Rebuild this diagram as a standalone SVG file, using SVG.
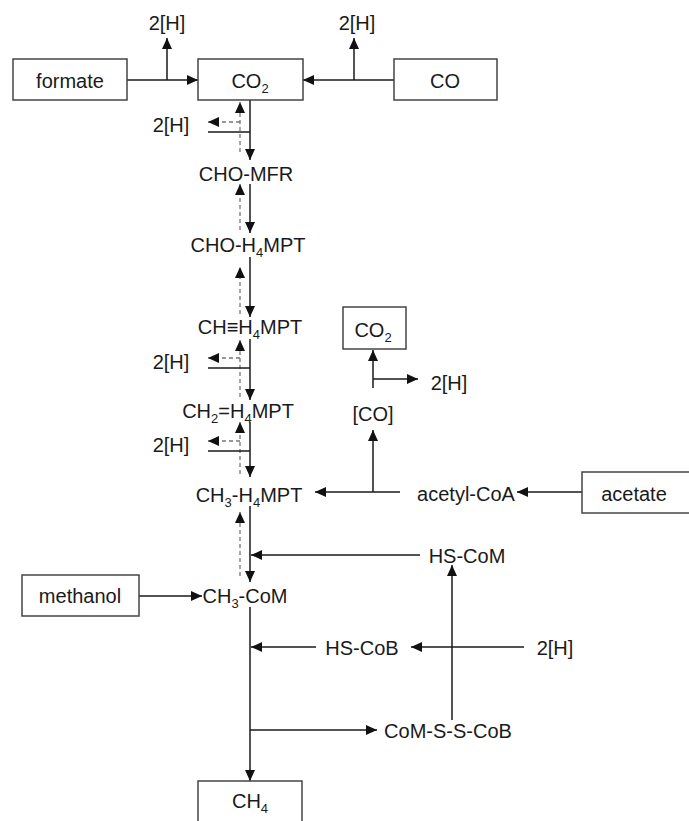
<svg xmlns="http://www.w3.org/2000/svg" width="689" height="821" viewBox="0 0 689 821">
<style>
text{font-family:"Liberation Sans",Arial,sans-serif;font-size:20px;fill:#1a1a1a;text-anchor:middle}
.s{font-size:13px}
.box{fill:#fff;stroke:#444;stroke-width:1.5}
.ln{stroke:#1a1a1a;stroke-width:1.5;fill:none}
.dash{stroke:#777;stroke-width:1.3;stroke-dasharray:4 3;fill:none}
</style>
<defs>
<marker id="ah" markerUnits="userSpaceOnUse" markerWidth="12" markerHeight="11" refX="11" refY="5" orient="auto">
<path d="M0,0 L11,5 L0,10 z" fill="#111"/>
</marker>
</defs>
<g id="connectors">
<line class="ln" x1="127" y1="80" x2="198" y2="80" marker-end="url(#ah)"/>
<line class="ln" x1="167" y1="80" x2="167" y2="38" marker-end="url(#ah)"/>
<line class="ln" x1="394" y1="80" x2="303" y2="80" marker-end="url(#ah)"/>
<line class="ln" x1="354" y1="80" x2="354" y2="38" marker-end="url(#ah)"/>
<line class="ln" x1="250" y1="100" x2="250" y2="160" marker-end="url(#ah)"/>
<line class="ln" x1="250" y1="184" x2="250" y2="233" marker-end="url(#ah)"/>
<line class="ln" x1="250" y1="257" x2="250" y2="317" marker-end="url(#ah)"/>
<line class="ln" x1="250" y1="339" x2="250" y2="400" marker-end="url(#ah)"/>
<line class="ln" x1="250" y1="422" x2="250" y2="477" marker-end="url(#ah)"/>
<line class="ln" x1="250" y1="506" x2="250" y2="582" marker-end="url(#ah)"/>
<line class="ln" x1="250" y1="607" x2="250" y2="781" marker-end="url(#ah)"/>
<line class="dash" x1="240" y1="152" x2="240" y2="102" marker-end="url(#ah)"/>
<line class="dash" x1="240" y1="230" x2="240" y2="184" marker-end="url(#ah)"/>
<line class="dash" x1="240" y1="314" x2="240" y2="267" marker-end="url(#ah)"/>
<line class="dash" x1="240" y1="397" x2="240" y2="340" marker-end="url(#ah)"/>
<line class="dash" x1="240" y1="474" x2="240" y2="422" marker-end="url(#ah)"/>
<line class="dash" x1="240" y1="576" x2="240" y2="512" marker-end="url(#ah)"/>
<line class="dash" x1="240" y1="122" x2="208" y2="122" marker-end="url(#ah)"/>
<line class="ln" x1="208" y1="132" x2="250" y2="132"/>
<line class="dash" x1="240" y1="358" x2="208" y2="358" marker-end="url(#ah)"/>
<line class="ln" x1="208" y1="368" x2="250" y2="368"/>
<line class="dash" x1="240" y1="441" x2="208" y2="441" marker-end="url(#ah)"/>
<line class="ln" x1="208" y1="451" x2="250" y2="451"/>
<line class="ln" x1="400" y1="492" x2="315" y2="492" marker-end="url(#ah)"/>
<line class="ln" x1="373" y1="492" x2="373" y2="430" marker-end="url(#ah)"/>
<line class="ln" x1="373" y1="388" x2="373" y2="350" marker-end="url(#ah)"/>
<line class="ln" x1="373" y1="379" x2="418" y2="379" marker-end="url(#ah)"/>
<line class="ln" x1="582" y1="492" x2="517" y2="492" marker-end="url(#ah)"/>
<line class="ln" x1="420" y1="555" x2="251" y2="555" marker-end="url(#ah)"/>
<line class="ln" x1="452" y1="720" x2="452" y2="565" marker-end="url(#ah)"/>
<line class="ln" x1="139" y1="596" x2="202" y2="596" marker-end="url(#ah)"/>
<line class="ln" x1="316" y1="647" x2="251" y2="647" marker-end="url(#ah)"/>
<line class="ln" x1="524" y1="647" x2="411" y2="647" marker-end="url(#ah)"/>
<line class="ln" x1="250" y1="730" x2="377" y2="730" marker-end="url(#ah)"/>
</g>
<g id="formate"><rect class="box" x="13" y="59" width="114" height="41"/><text x="70" y="88">formate</text></g>
<g id="co2-top"><rect class="box" x="198" y="59" width="105" height="41"/><text x="250" y="88">CO<tspan class="s" dy="5">2</tspan></text></g>
<g id="co"><rect class="box" x="394" y="59" width="103" height="41"/><text x="445" y="88">CO</text></g>
<g id="h-formate"><text x="167" y="30">2[H]</text></g>
<g id="h-co"><text x="357" y="30">2[H]</text></g>
<g id="h1"><text x="171" y="132">2[H]</text></g>
<g id="cho-mfr"><text x="246" y="181">CHO-MFR</text></g>
<g id="cho-h4mpt"><text x="248" y="252">CHO-H<tspan class="s" dy="5">4</tspan><tspan dy="-5">MPT</tspan></text></g>
<g id="ch-h4mpt"><text x="250" y="334">CH≡H<tspan class="s" dy="5">4</tspan><tspan dy="-5">MPT</tspan></text></g>
<g id="h2"><text x="171" y="369">2[H]</text></g>
<g id="ch2-h4mpt"><text x="238" y="418">CH<tspan class="s" dy="5">2</tspan><tspan dy="-5">=H</tspan><tspan class="s" dy="5">4</tspan><tspan dy="-5">MPT</tspan></text></g>
<g id="h3"><text x="171" y="452">2[H]</text></g>
<g id="ch3-h4mpt"><text x="249" y="502">CH<tspan class="s" dy="5">3</tspan><tspan dy="-5">-H</tspan><tspan class="s" dy="5">4</tspan><tspan dy="-5">MPT</tspan></text></g>
<g id="co2-mid"><rect class="box" x="343" y="307" width="63" height="42"/><text x="373" y="337">CO<tspan class="s" dy="5">2</tspan></text></g>
<g id="h-co-mid"><text x="449" y="390">2[H]</text></g>
<g id="co-bracket"><text x="373" y="421">[CO]</text></g>
<g id="acetyl-coa"><text x="466" y="501">acetyl-CoA</text></g>
<g id="acetate"><rect class="box" x="582" y="472" width="110" height="41"/><text x="634" y="501">acetate</text></g>
<g id="hs-com"><text x="467" y="563">HS-CoM</text></g>
<g id="methanol"><rect class="box" x="22" y="575" width="117" height="41"/><text x="80" y="603">methanol</text></g>
<g id="ch3-com"><text x="245" y="603">CH<tspan class="s" dy="5">3</tspan><tspan dy="-5">-CoM</tspan></text></g>
<g id="hs-cob"><text x="362" y="655">HS-CoB</text></g>
<g id="h-cob"><text x="555" y="655">2[H]</text></g>
<g id="com-s-s-cob"><text x="448" y="738">CoM-S-S-CoB</text></g>
<g id="ch4"><rect class="box" x="198" y="781" width="104" height="45"/><text x="250" y="808">CH<tspan class="s" dy="5">4</tspan></text></g>
</svg>
